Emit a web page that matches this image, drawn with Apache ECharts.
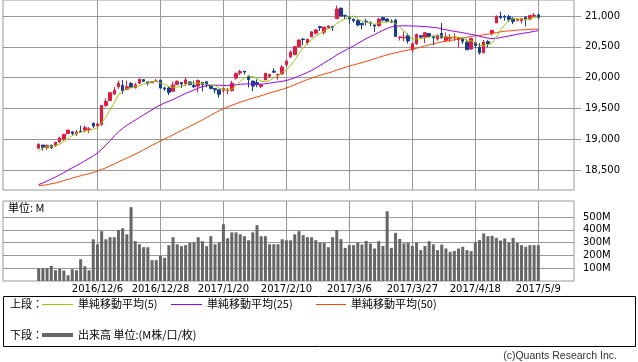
<!DOCTYPE html>
<html><head><meta charset="utf-8">
<script src="https://cdn.jsdelivr.net/npm/echarts@6/dist/echarts.min.js"></script>
<style>html,body{margin:0;padding:0;background:#fff}#c{width:638px;height:362px}</style>
</head><body><div id="c"></div>
<script>
const dates = [
'2016/11/15','2016/11/16','2016/11/17','2016/11/18','2016/11/21','2016/11/22','2016/11/23','2016/11/25','2016/11/28','2016/11/29',
'2016/11/30','2016/12/1','2016/12/2','2016/12/5','2016/12/6','2016/12/7','2016/12/8','2016/12/9','2016/12/12','2016/12/13',
'2016/12/14','2016/12/15','2016/12/16','2016/12/19','2016/12/20','2016/12/21','2016/12/22','2016/12/23','2016/12/27','2016/12/28',
'2016/12/29','2016/12/30','2017/1/3','2017/1/4','2017/1/5','2017/1/6','2017/1/9','2017/1/10','2017/1/11','2017/1/12',
'2017/1/13','2017/1/17','2017/1/18','2017/1/19','2017/1/20','2017/1/23','2017/1/24','2017/1/25','2017/1/26','2017/1/27',
'2017/1/30','2017/1/31','2017/2/1','2017/2/2','2017/2/3','2017/2/6','2017/2/7','2017/2/8','2017/2/9','2017/2/10',
'2017/2/13','2017/2/14','2017/2/15','2017/2/16','2017/2/17','2017/2/21','2017/2/22','2017/2/23','2017/2/24','2017/2/27',
'2017/2/28','2017/3/1','2017/3/2','2017/3/3','2017/3/6','2017/3/7','2017/3/8','2017/3/9','2017/3/10','2017/3/13',
'2017/3/14','2017/3/15','2017/3/16','2017/3/17','2017/3/20','2017/3/21','2017/3/22','2017/3/23','2017/3/24','2017/3/27',
'2017/3/28','2017/3/29','2017/3/30','2017/3/31','2017/4/3','2017/4/4','2017/4/5','2017/4/6','2017/4/7','2017/4/10',
'2017/4/11','2017/4/12','2017/4/13','2017/4/17','2017/4/18','2017/4/19','2017/4/20','2017/4/21','2017/4/24','2017/4/25',
'2017/4/26','2017/4/27','2017/4/28','2017/5/1','2017/5/2','2017/5/3','2017/5/4','2017/5/5','2017/5/8','2017/5/9'];

const opens = [
18858,18909,18866,18905,18898,18962,19006,19093,19123,19096,
19135,19149,19163,19262,19225,19241,19549,19631,19733,19852,
19876,19811,19906,19836,19910,19970,19931,19918,19943,19961,
19835,19833,19781,19890,19924,19906,19931,19876,19866,19926,
19934,19871,19826,19805,19795,19794,19794,19994,20076,20107,
20028,19946,19923,19859,19964,20025,20107,20049,20061,20211,
20338,20374,20504,20627,20564,20663,20723,20828,20737,20808,
20833,20957,21129,21012,20986,20950,20925,20884,20915,20889,
20856,20843,20975,20952,20919,20935,20651,20646,20682,20453,
20550,20680,20657,20716,20665,20629,20719,20606,20637,20648,
20620,20641,20577,20464,20567,20498,20405,20587,20723,20887,
20999,20991,20989,20962,20931,20923,20980,20951,21001,21018];

const closes = [
18923,18868,18903,18867,18956,19023,19083,19152,19097,19121,
19123,19191,19170,19216,19251,19549,19615,19757,19796,19911,
19792,19853,19843,19884,19975,19942,19918,19934,19946,19833,
19819,19763,19882,19942,19899,19964,19887,19855,19954,19891,
19885,19826,19804,19732,19827,19799,19912,20068,20100,20093,
19971,19864,19890,19884,20071,20052,20090,20054,20172,20269,
20412,20504,20611,20619,20624,20743,20775,20810,20821,20837,
20812,21115,21002,21005,20954,20924,20855,20858,20903,20881,
20837,20950,20934,20915,20906,20668,20661,20656,20596,20550,
20701,20659,20729,20663,20650,20689,20648,20663,20656,20658,
20651,20591,20453,20636,20523,20404,20578,20548,20764,20996,
20975,20981,20941,20913,20950,20958,20951,21007,21013,20976];

const lows = [
18843,18820,18831,18842,18882,18941,18978,19093,19066,19055,
19110,19114,19102,19183,19182,19220,19535,19631,19733,19821,
19738,19798,19826,19830,19898,19931,19875,19917,19933,19822,
19787,19718,19775,19890,19834,19863,19885,19831,19760,19777,
19843,19810,19749,19677,19755,19732,19775,19968,20043,20053,
19842,19781,19847,19832,19964,19994,20075,19967,20048,20175,
20320,20374,20496,20527,20532,20663,20700,20757,20700,20789,
20757,20957,21000,20954,20878,20892,20834,20782,20847,20836,
20741,20826,20914,20897,20886,20663,20604,20587,20555,20412,
20531,20642,20561,20658,20523,20601,20634,20575,20581,20594,
20490,20548,20453,20464,20477,20374,20405,20493,20684,20887,
20950,20924,20903,20868,20915,20877,20829,20930,20982,20945];

const highs = [
18934,18909,18916,18915,18957,19043,19084,19152,19134,19152,
19225,19226,19199,19275,19275,19558,19664,19757,19852,19953,
19966,19953,19930,19917,19987,19971,19935,19940,19981,19964,
19853,19852,19938,19957,19930,19999,19943,19952,19973,19929,
19951,19879,19830,19806,19843,19833,19949,20082,20125,20108,
20028,19946,19972,19905,20081,20064,20155,20068,20206,20298,
20441,20504,20620,20639,20624,20757,20789,20840,20821,20851,
20833,21169,21129,21012,20986,20950,20949,20884,20958,20914,
20866,20972,20979,20962,20946,20953,20669,20748,20721,20565,
20716,20688,20733,20721,20686,20696,20887,20735,20707,20720,
20655,20651,20623,20637,20577,20560,20611,20608,20779,21011,
21071,21017,21023,20981,20965,20960,20995,21007,21050,21040];

const volumes = [
100,100,100,118,84,95,82,45,92,84,
170,115,84,326,287,389,326,342,342,399,
412,365,577,311,287,264,264,163,163,196,
181,280,342,287,272,280,298,303,342,311,
272,350,287,303,444,334,380,380,365,350,
318,380,436,350,350,287,287,287,326,318,
318,365,389,358,342,342,319,300,298,264,
342,399,327,259,280,280,300,285,313,293,
254,311,274,545,259,376,329,293,298,274,
300,241,274,311,287,241,285,254,228,235,
254,267,241,233,303,319,371,350,353,337,
316,332,300,337,298,280,267,280,280,280];

const ma5 = [
18808,18863,18882,18886,18903,18923,18966,19016,19062,19095,
19115,19137,19140,19164,19190,19275,19360,19478,19594,19726,
19774,19822,19839,19857,19869,19899,19912,19931,19943,19915,
19890,19859,19849,19848,19861,19890,19915,19909,19912,19910,
19894,19882,19872,19828,19815,19798,19815,19868,19941,19994,
20029,20019,19984,19940,19936,19952,19997,20030,20088,20127,
20199,20282,20394,20483,20554,20620,20674,20714,20755,20797,
20811,20879,20917,20954,20978,21000,20948,20919,20899,20884,
20867,20886,20901,20903,20908,20875,20817,20761,20697,20626,
20633,20632,20647,20660,20680,20678,20676,20663,20661,20663,
20655,20644,20602,20598,20571,20521,20519,20538,20563,20658,
20772,20853,20931,20961,20952,20949,20943,20956,20976,20981];

const ma25 = [
18266,18295,18327,18357,18391,18426,18461,18501,18539,18575,
18613,18652,18692,18734,18779,18839,18906,18979,19055,19121,
19179,19230,19271,19313,19357,19398,19440,19481,19524,19559,
19591,19618,19647,19681,19712,19746,19774,19801,19831,19856,
19870,19878,19880,19877,19874,19874,19877,19886,19894,19899,
19900,19898,19896,19894,19903,19912,19925,19932,19942,19956,
19974,19999,20029,20056,20085,20119,20157,20198,20241,20282,
20322,20370,20408,20444,20478,20516,20556,20595,20635,20668,
20699,20734,20769,20798,20824,20834,20840,20842,20841,20838,
20837,20832,20829,20823,20815,20810,20791,20778,20764,20752,
20741,20731,20714,20704,20689,20672,20657,20642,20636,20639,
20652,20664,20676,20689,20705,20715,20727,20738,20752,20765];

const ma50 = [
18250,18257,18265,18281,18293,18312,18333,18352,18372,18392,
18412,18430,18445,18464,18487,18514,18539,18571,18601,18634,
18667,18698,18730,18763,18796,18832,18867,18904,18940,18975,
19008,19039,19074,19110,19143,19179,19213,19247,19282,19317,
19354,19392,19429,19466,19497,19527,19553,19578,19603,19628,
19649,19669,19689,19709,19731,19752,19772,19790,19811,19834,
19860,19886,19915,19943,19971,19995,20018,20039,20060,20078,
20098,20124,20147,20169,20189,20208,20227,20246,20265,20286,
20306,20330,20351,20370,20390,20405,20420,20436,20449,20462,
20478,20495,20514,20532,20549,20566,20581,20593,20604,20615,
20629,20644,20655,20670,20679,20686,20696,20706,20717,20732,
20743,20753,20759,20765,20772,20776,20779,20783,20787,20790];

const xLabelDates = ['2016/12/6','2016/12/28','2017/1/20','2017/2/10','2017/3/6','2017/3/27','2017/4/18','2017/5/9'];
const priceTicks = [18500,19000,19500,20000,20500,21000];
const volTicks = [100,200,300,400,500];

const PAD = 8;
const cats = [];
for (let i = 0; i < PAD; i++) cats.push('');
dates.forEach(d => cats.push(d));
for (let i = 0; i < PAD; i++) cats.push('');

const showDate = (idx, val) => xLabelDates.indexOf(val) >= 0;
const GRID = '#999';
const UP = '#f0143c', DOWN = '#123e9a';
const C5 = '#99cc00', C25 = '#9900ff', C50 = '#ff4500', CVOL = '#666666';
const NUMFONT = 'DejaVu Sans';
const JPFONT = '"Noto Sans CJK JP"';

const kData = dates.map((d, i) => [PAD + i, opens[i], closes[i], lows[i], highs[i]]);
const toXY = arr => arr.map((v, i) => [PAD + i, v]);

const chart = echarts.init(document.getElementById('c'), null, {renderer: 'canvas'});
chart.setOption({
  animation: false,
  backgroundColor: '#fff',
  grid: [
    {left: 3, top: 0, width: 571, height: 190, show: true, borderColor: GRID, borderWidth: 1, backgroundColor: 'transparent', outerBoundsMode: 'none'},
    {left: 3, top: 201, width: 571, height: 80, show: true, borderColor: GRID, borderWidth: 1, backgroundColor: 'transparent', outerBoundsMode: 'none'}
  ],
  xAxis: [
    {type: 'category', gridIndex: 0, data: cats, boundaryGap: true,
     axisLine: {show: false}, axisTick: {show: false}, axisLabel: {show: false},
     splitLine: {show: true, interval: showDate, alignWithLabel: true, lineStyle: {color: GRID, width: 1}}},
    {type: 'category', gridIndex: 1, data: cats, boundaryGap: true,
     axisLine: {show: false}, axisTick: {show: false},
     axisLabel: {show: true, interval: showDate, margin: 3, fontSize: 10, color: '#000', fontFamily: NUMFONT},
     splitLine: {show: true, interval: showDate, alignWithLabel: true, lineStyle: {color: GRID, width: 1}}}
  ],
  yAxis: [
    {type: 'value', gridIndex: 0, position: 'right', min: 18180, max: 21260, scale: true,
     axisLine: {show: false},
     axisTick: {show: true, length: 7, customValues: priceTicks, lineStyle: {color: GRID}},
     axisLabel: {customValues: priceTicks, margin: 11, fontSize: 10, color: '#000', fontFamily: NUMFONT,
                 formatter: v => Number(v).toLocaleString('en-US')},
     splitLine: {show: true, lineStyle: {color: GRID, width: 1}}},
    {type: 'value', gridIndex: 1, position: 'right', min: 0, max: 625,
     axisLine: {show: false},
     axisTick: {show: false, customValues: volTicks},
     axisLabel: {customValues: volTicks, margin: 9, fontSize: 10, color: '#000', fontFamily: NUMFONT,
                 formatter: v => v + 'M'},
     splitLine: {show: true, lineStyle: {color: GRID, width: 1}}}
  ],
  series: [
    {type: 'candlestick', name: 'price', xAxisIndex: 0, yAxisIndex: 0, data: kData,
     encode: {x: 0, y: [1, 2, 3, 4]}, barWidth: 3, z: 2,
     itemStyle: {color: UP, color0: DOWN, borderColor: UP, borderColor0: DOWN, borderWidth: 1}},
    {type: 'line', name: '単純移動平均(5)', xAxisIndex: 0, yAxisIndex: 0, data: toXY(ma5),
     showSymbol: false, symbol: 'none', lineStyle: {color: C5, width: 1}, z: 5},
    {type: 'line', name: '単純移動平均(25)', xAxisIndex: 0, yAxisIndex: 0, data: toXY(ma25),
     showSymbol: false, symbol: 'none', lineStyle: {color: C25, width: 1}, z: 4},
    {type: 'line', name: '単純移動平均(50)', xAxisIndex: 0, yAxisIndex: 0, data: toXY(ma50),
     showSymbol: false, symbol: 'none', lineStyle: {color: C50, width: 1}, z: 3},
    {type: 'bar', name: '出来高', xAxisIndex: 1, yAxisIndex: 1, data: toXY(volumes),
     barWidth: 3, itemStyle: {color: CVOL}}
  ],
  graphic: [
    {type: 'text', silent: true, style: {x: 8, y: 208, text: '単位: M', font: '11px ' + JPFONT, fill: '#000', verticalAlign: 'middle'}},
    {type: 'rect', silent: true, shape: {x: 3.5, y: 296.5, width: 632, height: 50}, style: {fill: 'none', stroke: '#000', lineWidth: 1}},
    {type: 'text', silent: true, style: {x: 10, y: 304, text: '上段：', font: '11px ' + JPFONT, fill: '#000', verticalAlign: 'middle'}},
    {type: 'line', silent: true, shape: {x1: 42, y1: 304.5, x2: 73, y2: 304.5}, style: {stroke: C5, lineWidth: 1}},
    {type: 'text', silent: true, style: {x: 78, y: 304, text: '単純移動平均(5)', font: '11px ' + JPFONT, fill: '#000', verticalAlign: 'middle'}},
    {type: 'line', silent: true, shape: {x1: 171, y1: 304.5, x2: 202, y2: 304.5}, style: {stroke: C25, lineWidth: 1}},
    {type: 'text', silent: true, style: {x: 207, y: 304, text: '単純移動平均(25)', font: '11px ' + JPFONT, fill: '#000', verticalAlign: 'middle'}},
    {type: 'line', silent: true, shape: {x1: 316, y1: 304.5, x2: 346, y2: 304.5}, style: {stroke: C50, lineWidth: 1}},
    {type: 'text', silent: true, style: {x: 351, y: 304, text: '単純移動平均(50)', font: '11px ' + JPFONT, fill: '#000', verticalAlign: 'middle'}},
    {type: 'text', silent: true, style: {x: 10, y: 335, text: '下段：', font: '11px ' + JPFONT, fill: '#000', verticalAlign: 'middle'}},
    {type: 'line', silent: true, shape: {x1: 42, y1: 335, x2: 73, y2: 335}, style: {stroke: CVOL, lineWidth: 4}},
    {type: 'text', silent: true, style: {x: 78, y: 335, text: '出来高 単位:(M株/口/枚)', font: '11px ' + JPFONT, fill: '#000', verticalAlign: 'middle'}},
    {type: 'text', silent: true, style: {x: 617, y: 356, text: '(c)Quants Research Inc.', font: '10.5px "Liberation Sans"', fill: '#333', align: 'right', verticalAlign: 'middle'}}
  ]
});
</script>
</body></html>
